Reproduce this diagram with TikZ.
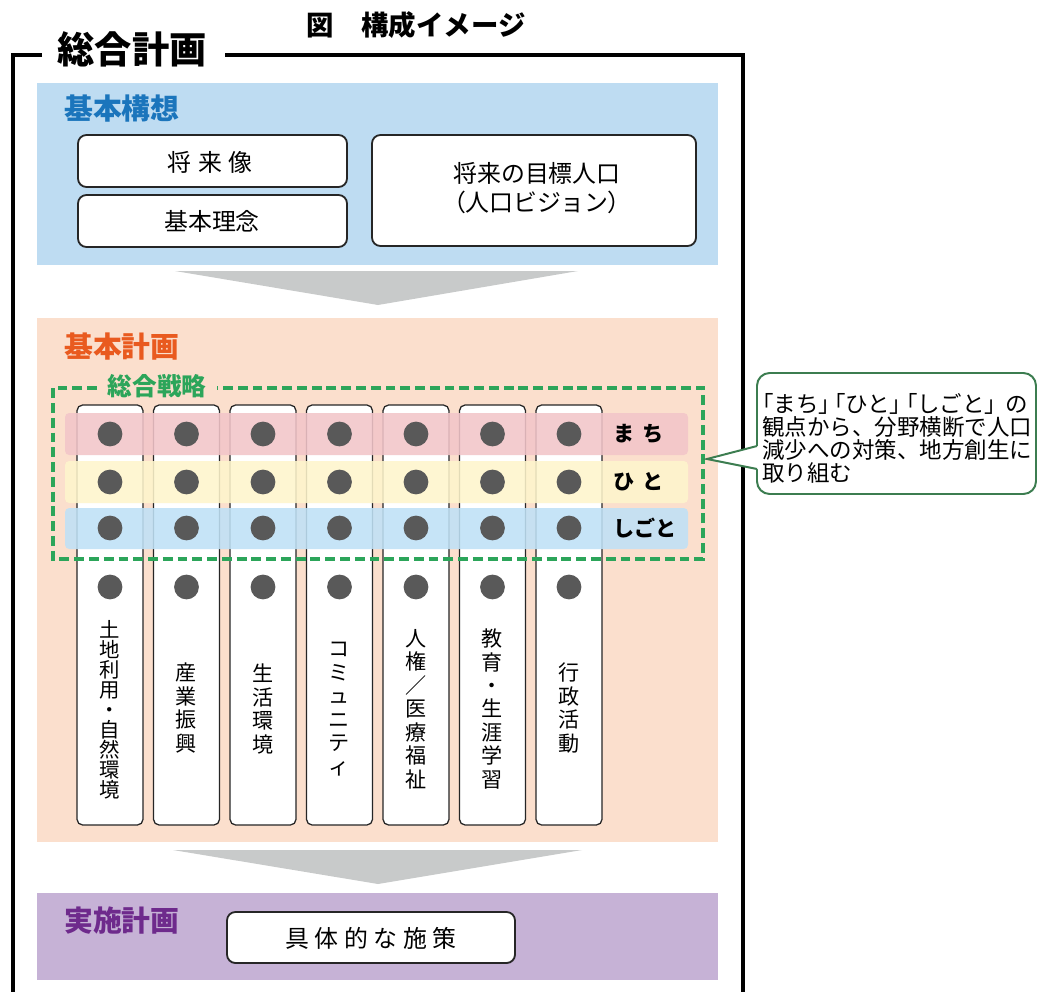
\documentclass[tikz,border=0pt]{standalone}
\usepackage{fontspec}
\setmainfont{Noto Sans CJK JP}
\newfontfamily\cjkp[RawFeature=+palt]{Noto Sans CJK JP}
\usetikzlibrary{positioning}

\definecolor{kousoufill}{RGB}{190,220,242}
\definecolor{kousoutext}{RGB}{27,117,188}
\definecolor{keikakufill}{RGB}{251,223,205}
\definecolor{keikakutext}{RGB}{233,90,31}
\definecolor{jisshifill}{RGB}{198,178,214}
\definecolor{jisshitext}{RGB}{110,42,140}
\definecolor{senryaku}{RGB}{44,165,90}
\definecolor{machiband}{RGB}{242,197,201}
\definecolor{hitoband}{RGB}{254,245,204}
\definecolor{shigotoband}{RGB}{191,225,246}
\definecolor{dotgray}{RGB}{89,89,89}
\definecolor{arrowgray}{RGB}{200,202,202}
\definecolor{calloutgreen}{RGB}{60,125,80}

\tikzset{
  frame/.style={line width=2.6pt},
  heading/.style={font=\fontsize{20.5}{20.5}\selectfont\bfseries, anchor=west, inner sep=0pt},
  plainbox/.style={draw=black!85, line width=1.3pt, rounded corners=6pt, fill=white},
  boxtext/.style={font=\fontsize{17}{21}\selectfont, align=center, inner sep=0pt},
  colbox/.style={draw=black!85, line width=0.9pt, rounded corners=4pt, fill=white},
  coltext/.style={font=\fontsize{15}{16.7}\selectfont, align=center, inner sep=0pt},
  band/.style={rounded corners=3pt, opacity=0.88},
  bandtext/.style={font=\fontsize{15}{15}\selectfont\bfseries, anchor=west, inner sep=0pt},
  greendash/.style={draw=senryaku, line width=2.8pt, dash pattern=on 7pt off 3.5pt},
  callout/.style={draw=calloutgreen, line width=1.4pt, fill=white}
}

\begin{document}
\begin{tikzpicture}[x=0.025cm,y=-0.025cm]
\useasboundingbox (0,0) rectangle (1038,992);

%outer frame
\draw[frame] (42,55) -- (13,55) -- (13,992);
\draw[frame] (225,55) -- (743,55) -- (743,992);
\node[font=\fontsize{26.5}{26.5}\selectfont\bfseries, inner sep=0pt] (sougou) at (132,49) {総合計画};
\node[font=\fontsize{19.5}{19.5}\selectfont\bfseries, inner sep=0pt] (zu) at (416,25) {図\hspace{1em}構成イメージ};

%basic concept
\fill[kousoufill] (37,83) rectangle (718,265);
\node[heading, text=kousoutext] (kousou) at (64,109) {基本構想};
\draw[plainbox] (78,135) rectangle (347,187);
\draw[plainbox] (78,195) rectangle (347,247);
\draw[plainbox] (372,135) rectangle (696,246);
\node[boxtext] (shouraizou) at (210,162) {将\kern5pt 来\kern5pt 像};
\node[boxtext] (rinen) at (212,221) {基本理念};
\node[boxtext] (mokuhyou) at (537,188) {将来の目標人口\\{\cjkp （}人口ビジョン{\cjkp ）}};

\fill[arrowgray] (175,271) -- (578,271) -- (378,305) -- cycle;

%basic plan
\fill[keikakufill] (37,318) rectangle (718,842);
\node[heading, text=keikakutext] (keikaku) at (64,347) {基本計画};

\foreach \i in {0,...,6}
  \draw[colbox] (77+76.5*\i,405) rectangle (143+76.5*\i,825);

\fill[band, machiband] (65,413) rectangle (688,455);
\fill[band, hitoband] (65,461) rectangle (688,503);
\fill[band, shigotoband] (65,508) rectangle (688,549);

\foreach \i in {0,...,6}
  \foreach \y in {434,482,528,587}
    \fill[dotgray] (110+76.5*\i,\y) circle (8.8pt);

\node[bandtext] (machi) at (613,434) {ま\kern6pt ち};
\node[bandtext] (hito) at (613,482) {ひ\kern6pt と};
\node[bandtext] (shigoto) at (613,528) {しごと};

%strategy
\draw[greendash] (97,388) -- (53,388) -- (53,559) -- (703,559) -- (703,388) -- (217,388);
\node[font=\fontsize{17.5}{17.5}\selectfont\bfseries, text=senryaku, inner sep=0pt] (senryakulabel) at (157,386) {総合戦略};

\node[coltext, font=\fontsize{14.5}{14.2}\selectfont] (tochi) at (110,710) {土\\地\\利\\用\\・\\自\\然\\環\\境};
\node[coltext] (sangyou) at (186.5,708) {産\\業\\振\\興};
\node[coltext] (seikatsu) at (263,709) {生\\活\\環\\境};
\node[coltext] (community) at (339.5,709) {コ\\ミ\\ュ\\ニ\\テ\\ィ};
\node[coltext] (jinken) at (416,709) {人\\権\\／\\医\\療\\福\\祉};
\node[coltext] (kyouiku) at (492.5,709) {教\\育\\・\\生\\涯\\学\\習};
\node[coltext] (gyousei) at (569,708) {行\\政\\活\\動};

%callout
\draw[callout, rounded corners=9pt] (757,373) rectangle (1036,494);
\fill[white] (755,446) -- (707,459) -- (755,469) -- (759,469) -- (759,446) -- cycle;
\draw[calloutgreen, line width=1.4pt] (757,446) -- (707,459) -- (757,469);
\node[font=\fontsize{16}{16.4}\selectfont, text width=192.5pt, align=left, anchor=north west, inner sep=0pt] (kanten) at (762,393)
  {{\cjkp 「}まち{\cjkp 」}\hspace{0pt plus 1fil}{\cjkp 「}ひと{\cjkp 」}\hspace{0pt plus 1fil}{\cjkp 「}しごと{\cjkp 」}\hspace{0pt plus 2fil}の\\観点から、分野横断で人口\\減少への対策、地方創生に\\取り組む};

\fill[arrowgray] (173,850) -- (582,850) -- (378,884) -- cycle;

%implementation plan
\fill[jisshifill] (37,893) rectangle (718,980);
\node[heading, text=jisshitext] (jisshi) at (64,921) {実施計画};
\draw[plainbox] (227,912) rectangle (515,963);
\node[boxtext] (shisaku) at (371,938) {具\kern4pt 体\kern4pt 的\kern4pt な\kern4pt 施\kern4pt 策};
\end{tikzpicture}
\end{document}
